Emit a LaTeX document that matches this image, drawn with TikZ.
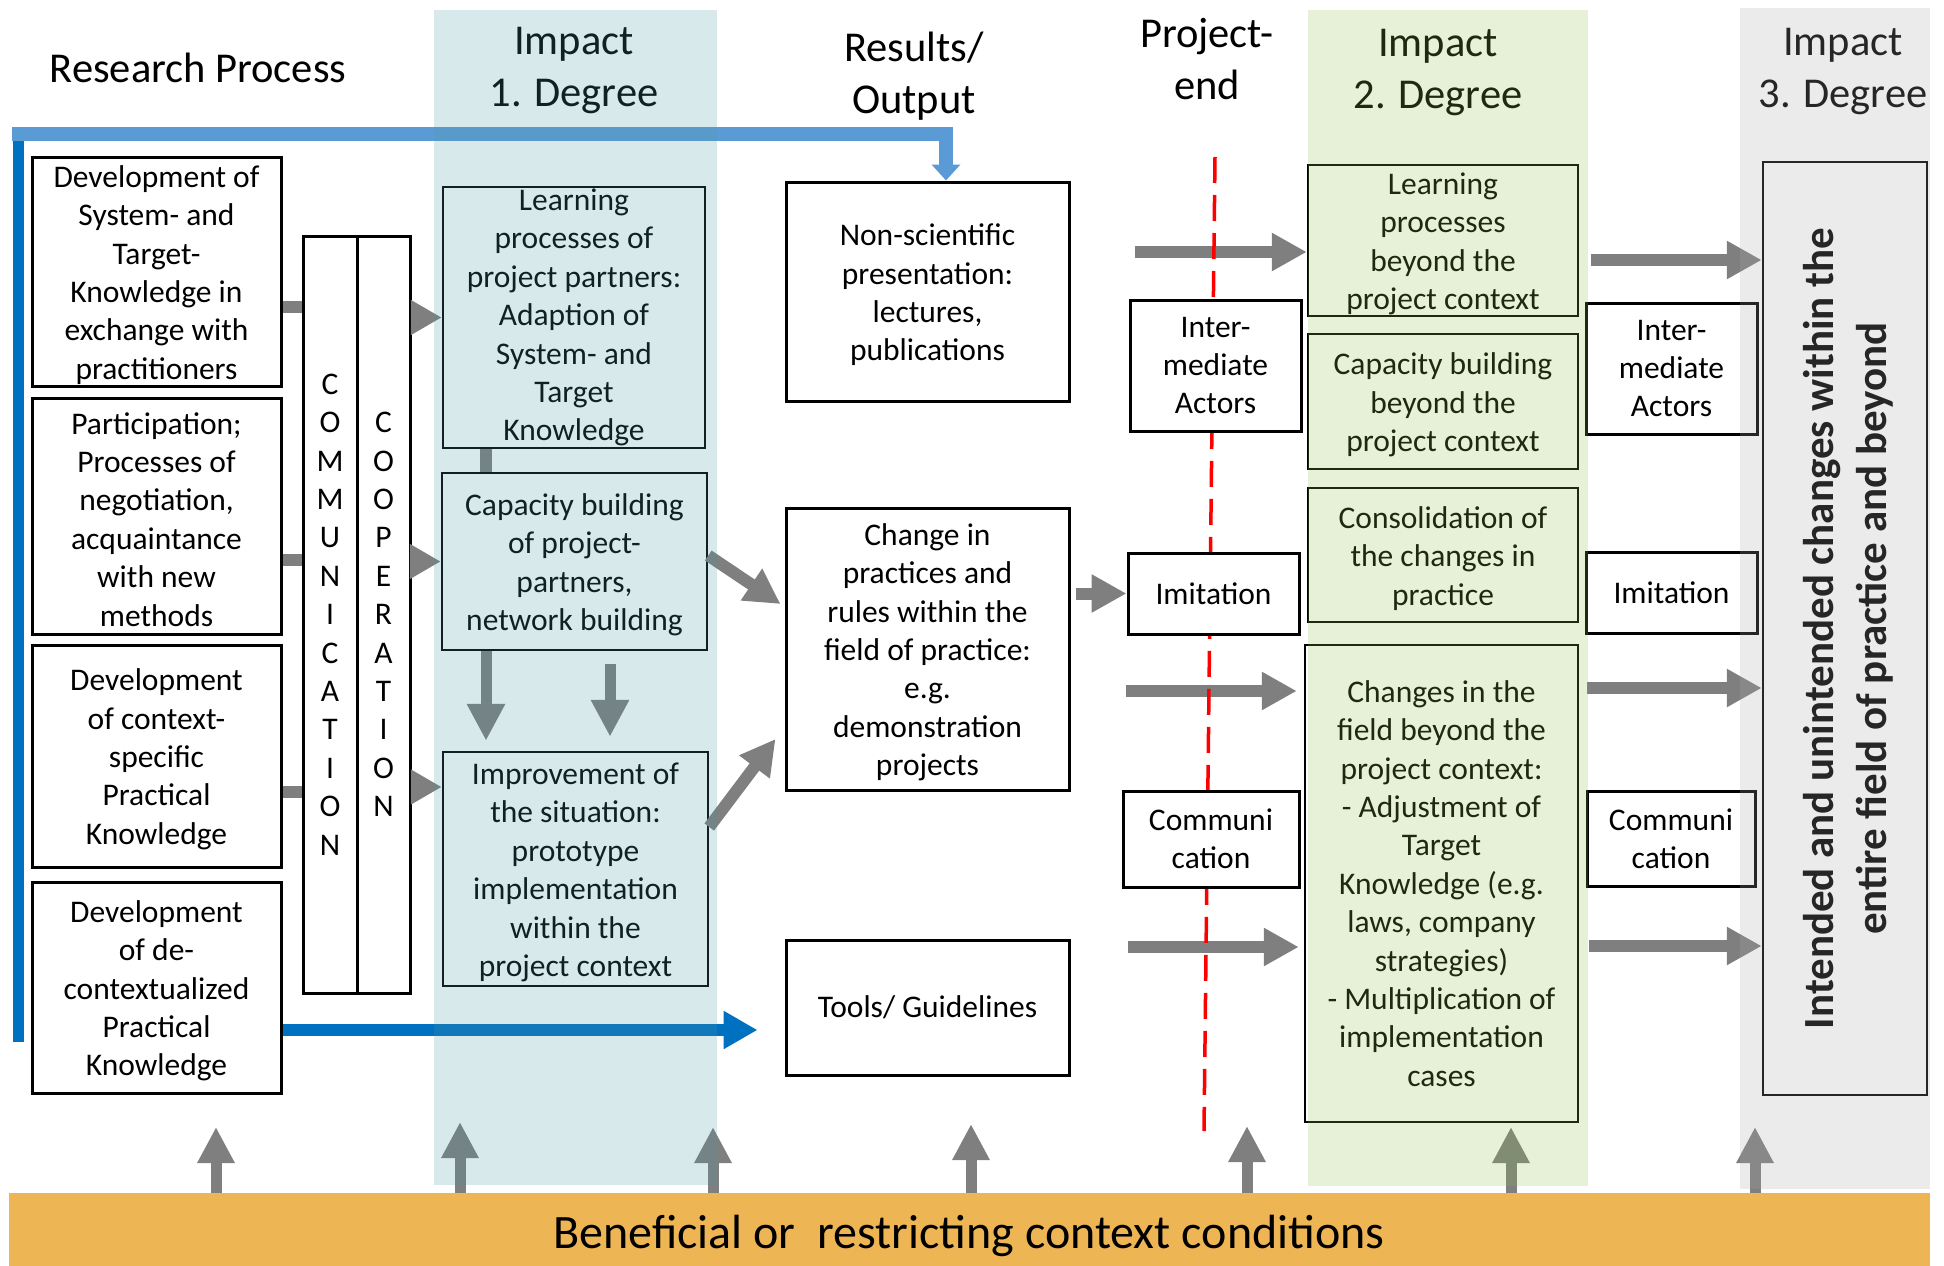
\documentclass[tikz,border=0pt]{standalone}
\usepackage{fontspec}
\setmainfont{Carlito}
\usetikzlibrary{arrows.meta}
\definecolor{arrgray}{HTML}{7F7F7F}
\definecolor{darkblue}{HTML}{0070C0}
\definecolor{lightblue}{HTML}{5B9BD5}
\definecolor{barorange}{HTML}{EDB553}
\definecolor{tealtint}{HTML}{4F9AA3}
\definecolor{greentint}{HTML}{8CBF4A}
\definecolor{greytint}{HTML}{A8A8A8}
\definecolor{redline}{HTML}{FF0000}
\newcommand{\lowr}{\rule{0pt}{28.5pt}}
\begin{document}
\begin{tikzpicture}[x=1pt,y=-1pt,
  txt/.style={font=\fontsize{31.5}{38.4}\selectfont, align=center, inner sep=0pt},
  ttl/.style={font=\fontsize{42.5}{52}\selectfont, align=center, inner sep=0pt},
  wbox/.style={txt, draw=black, line width=3pt, fill=white},
  ibox/.style={txt, draw=black, line width=2.5pt},
  gline/.style={draw=arrgray, line width=12pt},
  garrow/.style={gline, -{Triangle[length=35pt,width=36pt]}},
  sarrow/.style={gline, -{Triangle[length=31pt,width=33pt]}},
  darrow/.style={gline, line width=11pt, -{Triangle[length=37pt,width=36pt]}},
  uarrow/.style={gline, line width=11pt, -{Triangle[length=36pt,width=35pt]}},
]
\useasboundingbox (0,0) rectangle (1944,1266);

% titles
\node[ttl] (trp) at (198,68) {Research Process};
\node[ttl] (ti1) at (574,71) {Impact\\1. Degree};
\node[ttl] (tro) at (914,76) {Results/\\Output};
\node[ttl] (tpe) at (1207,59) {Project-\\end};
\node[ttl] (ti2) at (1438,73) {Impact\\2. Degree};
\node[ttl] (ti3) at (1843,72) {Impact\\3. Degree};

% bottom bar
\node[fill=barorange, minimum width=1921, minimum height=73, inner sep=0pt] (bar) at (969.5,1229.5) {};
\node[font=\fontsize{48}{58}\selectfont, inner sep=0pt, anchor=base] (bartxt) at (969,1248) {Beneficial or\ \ restricting context conditions};

% blue lines (behind boxes)
\coordinate (dv0) at (18,134);
\coordinate (dv1) at (18,1042);
\draw[darkblue, line width=11pt] (dv0) -- (dv1);

% left boxes
\node[wbox, minimum width=249, minimum height=229] (b1) at (156.5,271.5) {\lowr Development of\\System- and\\Target-\\Knowledge in\\exchange with\\practitioners};
\node[wbox, minimum width=249, minimum height=236] (b2) at (156.5,516) {\lowr Participation;\\Processes of\\negotiation,\\acquaintance\\with new\\methods};
\node[wbox, minimum width=249, minimum height=222] (b3) at (156.5,756) {\lowr Development\\of context-\\specific\\Practical\\Knowledge};
\node[wbox, minimum width=249, minimum height=211] (b4) at (156.5,987.5) {\lowr Development\\of de-\\contextualized\\Practical\\Knowledge};

% communication / cooperation columns
\node[wbox, minimum width=54, minimum height=757] (comm) at (330,614.5) {C\\O\\M\\M\\U\\N\\I\\C\\A\\T\\I\\O\\N};
\node[wbox, minimum width=53, minimum height=757] (coop) at (383.5,614.5) {C\\O\\O\\P\\E\\R\\A\\T\\I\\O\\N};

% impact 1 boxes
\node[ibox, minimum width=262, minimum height=261] (L1) at (574,317.5) {Learning\\processes of\\project partners:\\Adaption of\\System- and\\Target\\Knowledge};
\node[ibox, minimum width=265, minimum height=177] (C1) at (574.5,561.5) {\lowr Capacity building\\of project-\\partners,\\network building};
\node[ibox, minimum width=265, minimum height=234] (I1) at (575.5,869) {\lowr Improvement of\\the situation:\\prototype\\implementation\\within the\\project context};

% results boxes
\node[wbox, minimum width=283, minimum height=219] (N) at (927.5,291.5) {\lowr Non-scientific\\presentation:\\lectures,\\publications};
\node[wbox, minimum width=283, minimum height=282] (CH) at (927.5,649) {\lowr Change in\\practices and\\rules within the\\field of practice:\\e.g.\\demonstration\\projects};
\node[wbox, minimum width=283, minimum height=135] (T) at (927.5,1007.5) {Tools/ Guidelines};

% impact 2 boxes
\node[ibox, minimum width=270, minimum height=151] (LP2) at (1443,240.5) {\lowr Learning\\processes\\beyond the\\project context};
\node[ibox, minimum width=270, minimum height=135] (CB2) at (1443,401.5) {\lowr Capacity building\\beyond the\\project context};
\node[ibox, minimum width=270, minimum height=134] (CO2) at (1443,555) {\lowr Consolidation of\\the changes in\\practice};
\node[ibox, minimum width=273, minimum height=477] (CH2) at (1441.5,883.5) {Changes in the\\field beyond the\\project context:\\- Adjustment of\\Target\\Knowledge (e.g.\\laws, company\\strategies)\\- Multiplication of\\implementation\\cases};

% right intermediate boxes
\node[wbox, minimum width=171, minimum height=131] (IA2) at (1671.5,368.5) {Inter-\\mediate\\Actors};
\node[wbox, minimum width=171, minimum height=81] (IM2) at (1671.5,592.5) {Imitation};
\node[wbox, minimum width=168, minimum height=95] (CM2) at (1671,838.5) {Communi\\cation};

% impact 3 box
\node[ibox, rotate=90, minimum width=933, minimum height=164, font=\bfseries\fontsize{43}{53}\selectfont, text=black] (I3) at (1845,628.5) {\rule{0pt}{36pt}Intended and unintended changes within the\\entire field of practice and beyond};

% light blue path
\coordinate (bl0) at (12,134);
\coordinate (bl1) at (946,134);
\draw[lightblue, line width=14pt, line join=miter, -{Triangle[length=16pt,width=28pt]}] (bl0) -- (bl1) -- (bl1 |- N.north);

% dark blue arrow
\coordinate (db) at ([yshift=-42.5pt]b4.east);
\draw[darkblue, line width=11.5pt, -{Triangle[length=34pt,width=36pt]}, shorten >=27pt] (db) -- (db -| T.west);

% stubs from left boxes
\coordinate (s1) at ([yshift=-35.5pt]b1.east);
\coordinate (s2) at ([yshift=-44pt]b2.east);
\coordinate (s3) at ([yshift=-36pt]b3.east);
\draw[gline] (s1) -- (s1 -| comm.west);
\draw[gline] (s2) -- (s2 -| comm.west);
\draw[gline] (s3) -- (s3 -| comm.west);

% arrows into impact 1
\draw[sarrow] (coop.east |- L1.west) -- (L1.west);
\draw[sarrow] (coop.east |- C1.west) -- (C1.west);
\coordinate (i1in) at ([yshift=82pt]I1.west);
\draw[sarrow] (coop.east |- i1in) -- (i1in);

% L1 - C1 connector
\coordinate (lc) at ([xshift=-88pt]L1.south);
\draw[gline] (lc) -- (lc |- C1.north);

% down arrows C1 -> I1
\coordinate (d1) at ([xshift=-88.5pt]C1.south);
\draw[darrow, shorten >=10pt] (d1) -- (d1 |- I1.north);
\coordinate (d2) at ([xshift=35.5pt]C1.south);
\draw[darrow, shorten <=13pt, shorten >=14pt] (d2) -- (d2 |- I1.north);

% diagonal arrows to CH
\draw[garrow] ([yshift=6pt]C1.east) -- ([xshift=-4pt,yshift=45pt]CH.west);
\draw[garrow] ([yshift=42pt]I1.east) -- ([xshift=-9pt,yshift=-90pt]CH.west);

% arrows across project end
\coordinate (p1) at (1135,252);
\draw[garrow] (p1) -- (p1 -| LP2.west);
\coordinate (p2) at (1126,691);
\draw[garrow, shorten >=7pt] (p2) -- (p2 -| CH2.west);
\coordinate (p3) at (1128,947);
\draw[garrow, shorten >=5pt] (p3) -- (p3 -| CH2.west);

% arrows to impact 3
\coordinate (q1) at (1591,260);
\draw[garrow] (q1) -- (q1 -| I3.north);
\coordinate (q2) at (1587,688);
\draw[garrow] (q2) -- (q2 -| I3.north);
\coordinate (q3) at (1589,946);
\draw[garrow] (q3) -- (q3 -| I3.north);

% upward arrows from context conditions
\foreach \ux/\uy [count=\k] in {216/1127, 460/1122, 713/1127, 971/1124, 1247/1126, 1511/1127, 1755/1127} {
  \coordinate (u\k) at (\ux,\uy);
  \draw[uarrow] (u\k |- bar.north) -- (u\k);
}

% red dashed project-end line
\coordinate (r0) at (1215,157);
\coordinate (r1) at (1204,1131);
\draw[redline, line width=3.5pt, dash pattern=on 26pt off 12pt] (r0) -- (r1);

% project-end boxes on top of the red line
\node[wbox, minimum width=171, minimum height=131] (IA1) at (1215.5,365.5) {Inter-\\mediate\\Actors};
\node[wbox, minimum width=171, minimum height=81] (IM1) at (1213.5,593.5) {Imitation};
\node[wbox, minimum width=176, minimum height=96] (CM1) at (1211,839) {Communi\\cation};

% CH -> Imitation
\draw[garrow, shorten <=5pt] (CH.east |- IM1.west) -- (IM1.west);

% column tints
\fill[tealtint, fill opacity=0.22] (434,10) rectangle (717,1185);
\fill[greentint, fill opacity=0.22] (1308,10) rectangle (1588,1186);
\fill[greytint, fill opacity=0.23] (1740,8) rectangle (1930,1189);
\end{tikzpicture}
\end{document}
